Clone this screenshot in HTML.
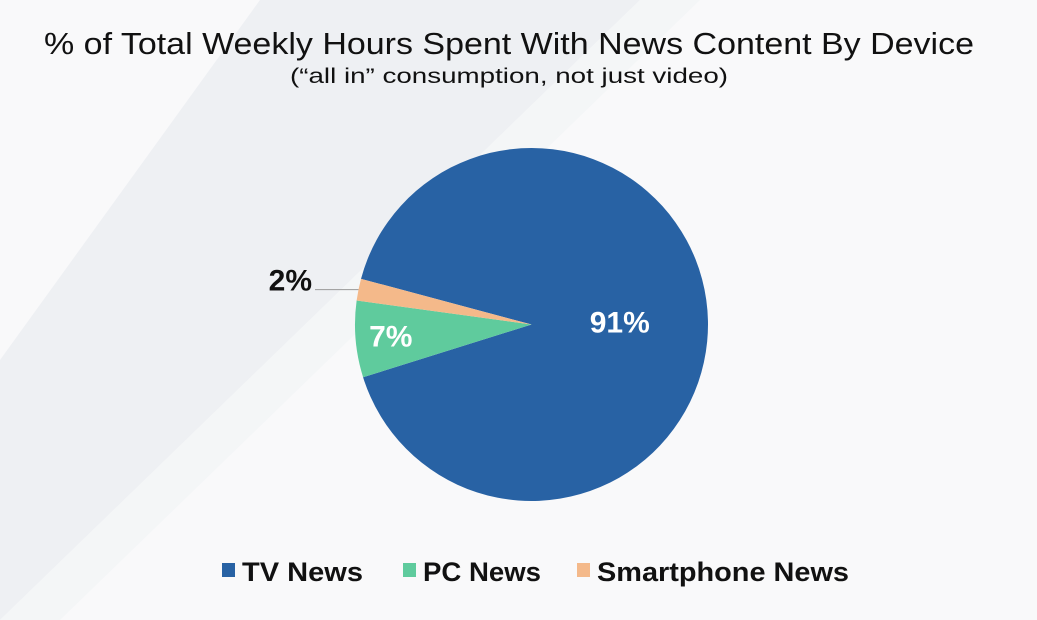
<!DOCTYPE html>
<html><head><meta charset="utf-8"><style>
html,body{margin:0;padding:0;background:#fafafa}
svg{display:block}
text{font-family:"Liberation Sans",sans-serif}
</style></head><body>
<svg width="1037" height="620" viewBox="0 0 1037 620">
<rect width="1037" height="620" fill="#f9f9fa"/>
<polygon points="260,0 640,0 0,620 0,360" fill="#eef0f3"/>
<polygon points="640,0 700,0 60,620 0,620" fill="#f4f6f7"/>
<text x="509" y="54" text-anchor="middle" font-size="31" textLength="930" lengthAdjust="spacingAndGlyphs" fill="#111">% of Total Weekly Hours Spent With News Content By Device</text>
<text x="509" y="83" text-anchor="middle" font-size="21" textLength="438" lengthAdjust="spacingAndGlyphs" fill="#111">(“all in” consumption, not just video)</text>
<g id="pie"></g>
<g id="legend"></g>
</svg>
<script>
const categories = ["TV News", "PC News", "Smartphone News"];
const values = [91, 7, 2];
const labels = ["91%", "7%", "2%"];
const colors = ["#2862a4", "#5fcb9d", "#f4b98a"];
const NS = "http://www.w3.org/2000/svg";
const cx = 531.5, cy = 324.5, r = 176.5;
const startDeg = 285; // clockwise from 12 o'clock
const pie = document.getElementById("pie");
const total = values.reduce((a, b) => a + b, 0);
function pt(deg, rad) {
  const a = (deg - 90) * Math.PI / 180;
  return [cx + rad * Math.cos(a), cy + rad * Math.sin(a)];
}
let acc = startDeg;
const slug = ["tv-news", "pc-news", "smartphone-news"];
values.forEach((v, i) => {
  const sweep = v / total * 360;
  const a0 = acc, a1 = acc + sweep;
  const p0 = pt(a0, r), p1 = pt(a1, r);
  const large = sweep > 180 ? 1 : 0;
  const path = document.createElementNS(NS, "path");
  path.setAttribute("d", `M${cx},${cy} L${p0[0]},${p0[1]} A${r},${r} 0 ${large} 1 ${p1[0]},${p1[1]} Z`);
  path.setAttribute("fill", colors[i]);
  
  
  pie.appendChild(path);
  const mid = (a0 + a1) / 2;
  const t = document.createElementNS(NS, "text");
  t.setAttribute("font-weight", "bold");
  t.setAttribute("font-size", "30");
  t.textContent = labels[i];
  if (i === 2) {
    const e = pt(mid, r);
    const ln = document.createElementNS(NS, "polyline");
    ln.setAttribute("points", `${e[0]},${e[1]} 315,${e[1]}`);
    ln.setAttribute("stroke", "#999");
    ln.setAttribute("fill", "none");
    
    
    pie.appendChild(ln);
    t.setAttribute("x", 312); t.setAttribute("y", e[1] + 1);
    t.setAttribute("text-anchor", "end"); t.setAttribute("fill", "#111");
  } else {
    const rr = i === 0 ? r * 0.5 : r * 0.8;
    const p = pt(mid, rr);
    t.setAttribute("x", p[0]); t.setAttribute("y", p[1] + 10);
    t.setAttribute("text-anchor", "middle"); t.setAttribute("fill", "#fff");
  }
  
  
  pie.appendChild(t);
  acc = a1;
});
const legend = document.getElementById("legend");
const lx = [222, 403, 577];
const lw = [141, 138, 272];
categories.forEach((c, i) => {
  const g = document.createElementNS(NS, "g");
  
  
  const s = document.createElementNS(NS, "rect");
  s.setAttribute("x", lx[i]); s.setAttribute("y", 563);
  s.setAttribute("width", 13); s.setAttribute("height", 14);
  s.setAttribute("fill", colors[i]);
  
  
  g.appendChild(s);
  const t = document.createElementNS(NS, "text");
  t.setAttribute("x", lx[i] + 20); t.setAttribute("y", 581);
  t.setAttribute("font-size", "27"); t.setAttribute("font-weight", "bold");
  t.setAttribute("fill", "#111");
  t.setAttribute("textLength", lw[i] - 20);
  t.setAttribute("lengthAdjust", "spacingAndGlyphs");
  t.textContent = c;
  
  
  g.appendChild(t);
  legend.appendChild(g);
});
</script>
</body></html>
